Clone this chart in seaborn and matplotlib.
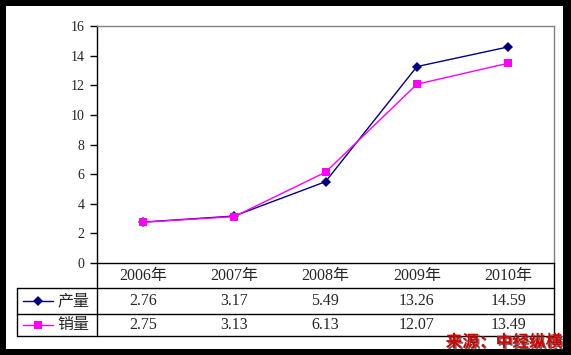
import numpy as np
import pandas as pd
import matplotlib
matplotlib.use("Agg")
import matplotlib.pyplot as plt
import matplotlib.patheffects as pe
from matplotlib.patches import Rectangle
from matplotlib.lines import Line2D
import seaborn as sns

years = ["2006年", "2007年", "2008年", "2009年", "2010年"]
output = [2.76, 3.17, 5.49, 13.26, 14.59]
sales = [2.75, 3.13, 6.13, 12.07, 13.49]
series_names = ["产量", "销量"]
y_ticks = [0, 2, 4, 6, 8, 10, 12, 14, 16]
source = "来源：中经纵横"

sns.set_style("white")
plt.rcParams["font.family"] = ["Liberation Serif", "Noto Sans CJK SC", "DejaVu Sans"]

W, H = 571, 355
fig = plt.figure(figsize=(W / 100, H / 100), dpi=100, facecolor="black")

# white card on black frame
fig.patches.append(Rectangle((6 / W, 6 / H), (563 - 6) / W, (349 - 6) / H,
                             transform=fig.transFigure, facecolor="white",
                             edgecolor="none", zorder=-5))

# plot area in pixels: left 97, right 554, top 26, bottom 263
ax = fig.add_axes([97 / W, (H - 263) / H, (554 - 97) / W, (263 - 26) / H])
ax.set_zorder(2)
ax.set_facecolor("white")

df = pd.DataFrame({
    "pos": list(range(len(years))) * 2,
    "value": output + sales,
    "series": [series_names[0]] * len(years) + [series_names[1]] * len(years),
})
colors = {"产量": "#000080", "销量": "#FF00FF"}
markers = {"产量": "D", "销量": "s"}

sns.lineplot(data=df, x="pos", y="value", hue="series", style="series",
             palette=colors, markers=markers, dashes=False, linewidth=1.0,
             markersize=5.5, markeredgewidth=0, legend=False, ax=ax)

ax.set_xlim(-0.5, len(years) - 0.5)
ax.set_ylim(0, 16)
ax.set_yticks(y_ticks)
ax.set_yticklabels([str(t) for t in y_ticks], fontsize=10)
ax.set_xticks([])
ax.set_xlabel("")
ax.set_ylabel("")
ax.tick_params(axis="y", direction="out", length=5, width=1, color="black", pad=4, left=True)
for side in ["top", "right"]:
    ax.spines[side].set_color("#808080")
    ax.spines[side].set_linewidth(1)
for side in ["left", "bottom"]:
    ax.spines[side].set_color("black")
    ax.spines[side].set_linewidth(1)

# data table below the plot
ah = 263 - 26
aw = 554 - 97
def fy(px):
    return (263 - px) / ah

left_x = (17 - 97) / aw
row_year = fy(276)
row1 = fy(301)
row2 = fy(325)
lines_y = [fy(288), fy(314), fy(336)]

xt = ax.get_xaxis_transform()
for i, yr in enumerate(years):
    ax.text(i, row_year, yr, transform=xt, ha="center", va="center", fontsize=11.5, clip_on=False)
    ax.text(i, row1, f"{output[i]:.2f}", transform=xt, ha="center", va="center", fontsize=11.5, clip_on=False)
    ax.text(i, row2, f"{sales[i]:.2f}", transform=xt, ha="center", va="center", fontsize=11.5, clip_on=False)

for yl in lines_y:
    ax.add_line(Line2D([left_x, 1], [yl, yl], transform=ax.transAxes, color="black", lw=1, clip_on=False))
ax.add_line(Line2D([left_x, left_x], [lines_y[0], lines_y[-1]], transform=ax.transAxes, color="black", lw=1, clip_on=False))
ax.add_line(Line2D([0, 0], [0, lines_y[-1]], transform=ax.transAxes, color="black", lw=1, clip_on=False))
ax.add_line(Line2D([1, 1], [0, lines_y[-1]], transform=ax.transAxes, color="black", lw=1, clip_on=False))

# legend keys inside the table
for name, ry in zip(series_names, [row1, row2]):
    x0, x1 = (23 - 97) / aw, (53 - 97) / aw
    ax.add_line(Line2D([x0, x1], [ry, ry], transform=ax.transAxes, color=colors[name], lw=1, clip_on=False))
    ax.add_line(Line2D([(x0 + x1) / 2], [ry], transform=ax.transAxes, color=colors[name],
                       marker=markers[name], markersize=5.5, markeredgewidth=0, clip_on=False))
    ax.text((57 - 97) / aw, ry, name, transform=ax.transAxes, ha="left", va="center",
            fontsize=11.5, family=["Noto Sans CJK SC"], clip_on=False)

fig.text(562 / W, (H - 342) / H, source, ha="right", va="center", fontsize=12,
         color="#D40000", fontweight="bold", family=["Noto Sans CJK SC"], zorder=5,
         path_effects=[pe.withSimplePatchShadow(offset=(1.2, -1.2), shadow_rgbFace="#404040", alpha=0.8)])

fig.savefig("out.png", dpi=100, facecolor=fig.get_facecolor())
